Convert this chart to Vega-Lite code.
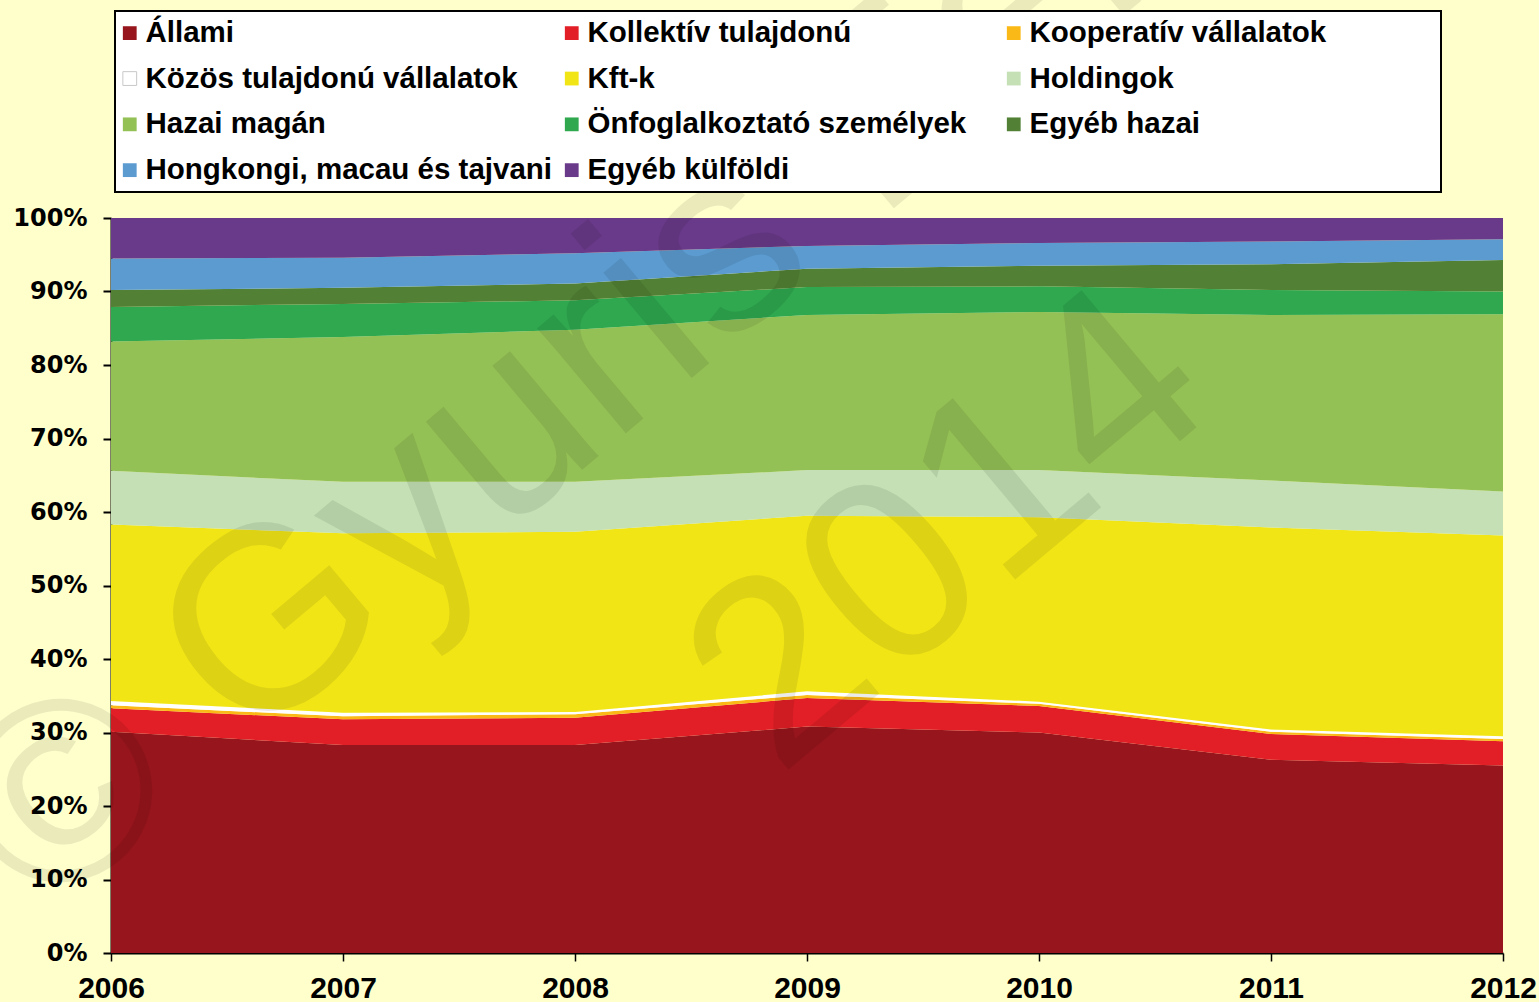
{
  "$schema": "https://vega.github.io/schema/vega-lite/v6.json",
  "width": 1392,
  "height": 735,
  "autosize": {"type": "none"},
  "padding": {"left": 111, "top": 218, "right": 36, "bottom": 49},
  "background": "#FFFFCC",
  "config": {"view": {"stroke": null}, "font": "Liberation Sans"},
  "layer": [
    {
      "data": {"values": [
        {"year": 2006, "k": 0, "cat": "Állami", "value": 30.1},
        {"year": 2006, "k": 1, "cat": "Kollektív tulajdonú", "value": 3.2},
        {"year": 2006, "k": 2, "cat": "Kooperatív vállalatok", "value": 0.4},
        {"year": 2006, "k": 3, "cat": "Közös tulajdonú vállalatok", "value": 0.6},
        {"year": 2006, "k": 4, "cat": "Kft-k", "value": 24.0},
        {"year": 2006, "k": 5, "cat": "Holdingok", "value": 7.3},
        {"year": 2006, "k": 6, "cat": "Hazai magán", "value": 17.6},
        {"year": 2006, "k": 7, "cat": "Önfoglalkoztató személyek", "value": 4.7},
        {"year": 2006, "k": 8, "cat": "Egyéb hazai", "value": 2.3},
        {"year": 2006, "k": 9, "cat": "Hongkongi, macau és tajvani", "value": 4.3},
        {"year": 2006, "k": 10, "cat": "Egyéb külföldi", "value": 5.5},
        {"year": 2007, "k": 0, "cat": "Állami", "value": 28.3},
        {"year": 2007, "k": 1, "cat": "Kollektív tulajdonú", "value": 3.5},
        {"year": 2007, "k": 2, "cat": "Kooperatív vállalatok", "value": 0.4},
        {"year": 2007, "k": 3, "cat": "Közös tulajdonú vállalatok", "value": 0.5},
        {"year": 2007, "k": 4, "cat": "Kft-k", "value": 24.4},
        {"year": 2007, "k": 5, "cat": "Holdingok", "value": 7.0},
        {"year": 2007, "k": 6, "cat": "Hazai magán", "value": 19.7},
        {"year": 2007, "k": 7, "cat": "Önfoglalkoztató személyek", "value": 4.5},
        {"year": 2007, "k": 8, "cat": "Egyéb hazai", "value": 2.2},
        {"year": 2007, "k": 9, "cat": "Hongkongi, macau és tajvani", "value": 4.1},
        {"year": 2007, "k": 10, "cat": "Egyéb külföldi", "value": 5.4},
        {"year": 2008, "k": 0, "cat": "Állami", "value": 28.3},
        {"year": 2008, "k": 1, "cat": "Kollektív tulajdonú", "value": 3.7},
        {"year": 2008, "k": 2, "cat": "Kooperatív vállalatok", "value": 0.5},
        {"year": 2008, "k": 3, "cat": "Közös tulajdonú vállalatok", "value": 0.3},
        {"year": 2008, "k": 4, "cat": "Kft-k", "value": 24.5},
        {"year": 2008, "k": 5, "cat": "Holdingok", "value": 6.8},
        {"year": 2008, "k": 6, "cat": "Hazai magán", "value": 20.7},
        {"year": 2008, "k": 7, "cat": "Önfoglalkoztató személyek", "value": 4.0},
        {"year": 2008, "k": 8, "cat": "Egyéb hazai", "value": 2.3},
        {"year": 2008, "k": 9, "cat": "Hongkongi, macau és tajvani", "value": 4.1},
        {"year": 2008, "k": 10, "cat": "Egyéb külföldi", "value": 4.8},
        {"year": 2009, "k": 0, "cat": "Állami", "value": 30.8},
        {"year": 2009, "k": 1, "cat": "Kollektív tulajdonú", "value": 3.9},
        {"year": 2009, "k": 2, "cat": "Kooperatív vállalatok", "value": 0.4},
        {"year": 2009, "k": 3, "cat": "Közös tulajdonú vállalatok", "value": 0.5},
        {"year": 2009, "k": 4, "cat": "Kft-k", "value": 23.9},
        {"year": 2009, "k": 5, "cat": "Holdingok", "value": 6.2},
        {"year": 2009, "k": 6, "cat": "Hazai magán", "value": 21.1},
        {"year": 2009, "k": 7, "cat": "Önfoglalkoztató személyek", "value": 3.8},
        {"year": 2009, "k": 8, "cat": "Egyéb hazai", "value": 2.5},
        {"year": 2009, "k": 9, "cat": "Hongkongi, macau és tajvani", "value": 3.1},
        {"year": 2009, "k": 10, "cat": "Egyéb külföldi", "value": 3.8},
        {"year": 2010, "k": 0, "cat": "Állami", "value": 30.0},
        {"year": 2010, "k": 1, "cat": "Kollektív tulajdonú", "value": 3.6},
        {"year": 2010, "k": 2, "cat": "Kooperatív vállalatok", "value": 0.3},
        {"year": 2010, "k": 3, "cat": "Közös tulajdonú vállalatok", "value": 0.3},
        {"year": 2010, "k": 4, "cat": "Kft-k", "value": 25.1},
        {"year": 2010, "k": 5, "cat": "Holdingok", "value": 6.4},
        {"year": 2010, "k": 6, "cat": "Hazai magán", "value": 21.5},
        {"year": 2010, "k": 7, "cat": "Önfoglalkoztató személyek", "value": 3.5},
        {"year": 2010, "k": 8, "cat": "Egyéb hazai", "value": 2.8},
        {"year": 2010, "k": 9, "cat": "Hongkongi, macau és tajvani", "value": 3.1},
        {"year": 2010, "k": 10, "cat": "Egyéb külföldi", "value": 3.4},
        {"year": 2011, "k": 0, "cat": "Állami", "value": 26.3},
        {"year": 2011, "k": 1, "cat": "Kollektív tulajdonú", "value": 3.5},
        {"year": 2011, "k": 2, "cat": "Kooperatív vállalatok", "value": 0.3},
        {"year": 2011, "k": 3, "cat": "Közös tulajdonú vállalatok", "value": 0.3},
        {"year": 2011, "k": 4, "cat": "Kft-k", "value": 27.5},
        {"year": 2011, "k": 5, "cat": "Holdingok", "value": 6.4},
        {"year": 2011, "k": 6, "cat": "Hazai magán", "value": 22.5},
        {"year": 2011, "k": 7, "cat": "Önfoglalkoztató személyek", "value": 3.4},
        {"year": 2011, "k": 8, "cat": "Egyéb hazai", "value": 3.5},
        {"year": 2011, "k": 9, "cat": "Hongkongi, macau és tajvani", "value": 3.1},
        {"year": 2011, "k": 10, "cat": "Egyéb külföldi", "value": 3.2},
        {"year": 2012, "k": 0, "cat": "Állami", "value": 25.5},
        {"year": 2012, "k": 1, "cat": "Kollektív tulajdonú", "value": 3.3},
        {"year": 2012, "k": 2, "cat": "Kooperatív vállalatok", "value": 0.3},
        {"year": 2012, "k": 3, "cat": "Közös tulajdonú vállalatok", "value": 0.4},
        {"year": 2012, "k": 4, "cat": "Kft-k", "value": 27.3},
        {"year": 2012, "k": 5, "cat": "Holdingok", "value": 6.0},
        {"year": 2012, "k": 6, "cat": "Hazai magán", "value": 24.1},
        {"year": 2012, "k": 7, "cat": "Önfoglalkoztató személyek", "value": 3.1},
        {"year": 2012, "k": 8, "cat": "Egyéb hazai", "value": 4.3},
        {"year": 2012, "k": 9, "cat": "Hongkongi, macau és tajvani", "value": 2.8},
        {"year": 2012, "k": 10, "cat": "Egyéb külföldi", "value": 2.9}
      ]},
      "mark": {"type": "area", "interpolate": "linear"},
      "encoding": {
        "x": {
          "field": "year", "type": "quantitative", "title": null,
          "scale": {"domain": [2006, 2012], "nice": false, "zero": false},
          "axis": {
            "values": [2006, 2007, 2008, 2009, 2010, 2011, 2012],
            "format": "d", "grid": false, "labelFlush": false, "labelOverlap": false,
            "labelFont": "Liberation Sans", "labelFontWeight": "bold", "labelFontSize": 30, "labelColor": "#000000",
            "labelPadding": 12, "tickColor": "#000000", "tickSize": 8, "tickWidth": 1.5,
            "domainColor": "#000000", "domainWidth": 2
          }
        },
        "y": {
          "field": "value", "type": "quantitative", "stack": "zero", "title": null,
          "scale": {"domain": [0, 100], "nice": false},
          "axis": {
            "values": [0, 10, 20, 30, 40, 50, 60, 70, 80, 90, 100],
            "labelExpr": "datum.value + '%'", "grid": false,
            "labelFont": "DejaVu Sans", "labelFontWeight": "bold", "labelFontSize": 24, "labelColor": "#000000",
            "labelPadding": 16, "tickColor": "#000000", "tickSize": 8, "tickWidth": 2,
            "domainColor": "#000000", "domainWidth": 2
          }
        },
        "color": {
          "field": "cat", "type": "nominal",
          "scale": {
            "domain": ["Állami", "Közös tulajdonú vállalatok", "Hazai magán", "Hongkongi, macau és tajvani", "Kollektív tulajdonú", "Kft-k", "Önfoglalkoztató személyek", "Egyéb külföldi", "Kooperatív vállalatok", "Holdingok", "Egyéb hazai", "\u2800\u2800\u2800\u2800\u2800\u2800\u2800\u2800\u2800\u00a0\u2800\u2800\u2800\u2800\u2800\u2800\u2800\u2800\u2800"],
            "range": ["#97151C", "#FFFFFF", "#94C155", "#5B9BD0", "#E21F26", "#F1E516", "#2FA84F", "#6A3A8A", "#FBB917", "#C4E0B4", "#528135", "#FFFFFF"]
          },
          "legend": {
            "title": null, "orient": "none", "legendX": 4, "legendY": -207,
            "columns": 3, "gridAlign": "all", "columnPadding": 9, "rowPadding": 14.8, "padding": 7,
            "fillColor": "#FFFFFF", "strokeColor": "#000000",
            "symbolType": "square", "symbolSize": 190, "symbolStrokeWidth": 1, "symbolOpacity": 1, "symbolOffset": -7,
            "labelFont": "Liberation Sans", "labelFontWeight": "bold", "labelFontSize": 29.5, "labelColor": "#000000",
            "labelOffset": 1, "labelLimit": 0,
            "encode": {
              "legend": {"update": {"strokeWidth": {"value": 2}}},
              "symbols": {"update": {"stroke": {"signal": "datum.value === 'Közös tulajdonú vállalatok' ? '#c8c8c8' : 'transparent'"}}}
            }
          }
        },
        "order": {"field": "k", "type": "quantitative", "sort": "ascending"}
      }
    },
    {
      "data": {"values": [
        {"year": 2008.845, "pct": 87.3, "t": "© Gyuris Ferenc"},
        {"year": 2009.832, "pct": 49.1, "t": "2014"}
      ]},
      "mark": {"type": "text", "font": "Liberation Sans", "fontSize": 260, "angle": -40, "align": "center", "baseline": "alphabetic", "fill": "#000000", "opacity": 0.08},
      "encoding": {
        "x": {"field": "year", "type": "quantitative", "title": null},
        "y": {"field": "pct", "type": "quantitative", "title": null},
        "text": {"field": "t", "type": "nominal"}
      }
    }
  ]
}
